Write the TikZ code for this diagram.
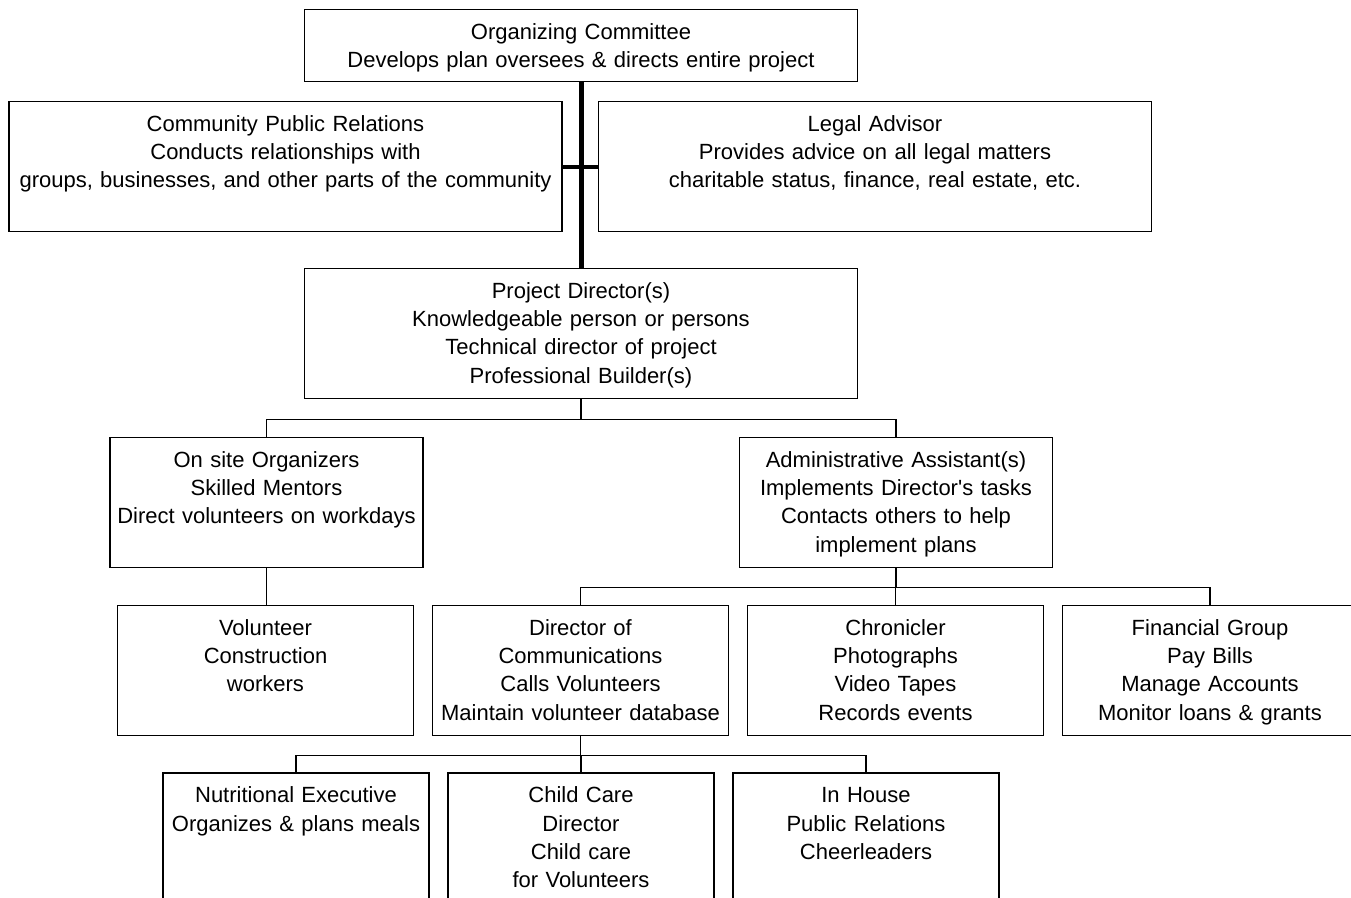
\documentclass[tikz,border=0pt]{standalone}
\usepackage{fontspec}
\setmainfont{Liberation Sans}
\tikzset{
  post/.style={draw, line width=0.7pt, anchor=north, align=center, inner sep=0pt,
    font=\fontsize{11}{14.2}\selectfont, text height=14.75pt, text depth=50.25pt},
  widepost/.style={post, text width=276.5pt},
  midpost/.style={post, text width=156.5pt},
  narrowpost/.style={post, text width=147.75pt},
  smallpost/.style={post, text width=133pt},
  link/.style={line width=0.7pt},
  trunk/.style={line width=2.5pt}
}
\begin{document}
\begin{tikzpicture}[x=0.5pt,y=-0.5pt]
 \clip (0,0) rectangle (1351,898);

 \node[widepost, text depth=21.25pt] (org) at (581,9) {Organizing Committee\\Develops plan oversees \& directs entire project};
 \node[widepost] (cpr) at (285.5,101) {Community Public Relations\\Conducts relationships with\\groups, businesses, and other parts of the community};
 \node[widepost] (legal) at (875,101) {Legal Advisor\\Provides advice on all legal matters\\charitable status, finance, real estate, etc.};
 \node[widepost] (pd) at (581,268) {Project Director(s)\\Knowledgeable person or persons\\Technical director of project\\Professional Builder(s)};
 \node[midpost] (onsite) at (266.5,437) {On site Organizers\\Skilled Mentors\\Direct volunteers on workdays};
 \node[midpost] (admin) at (896,437) {Administrative Assistant(s)\\Implements Director\textquotesingle s tasks\\Contacts others to help\\implement plans};
 \node[narrowpost] (vol) at (265.5,605) {Volunteer\\Construction\\workers};
 \node[narrowpost] (comm) at (580.5,605) {Director of\\Communications\\Calls Volunteers\\Maintain volunteer database};
 \node[narrowpost] (chron) at (895.5,605) {Chronicler\\Photographs\\Video Tapes\\Records events};
 \node[narrowpost] (fin) at (1210,605) {Financial Group\\Pay Bills\\Manage Accounts\\Monitor loans \& grants};
 \node[smallpost] (food) at (296,772.5) {Nutritional Executive\\Organizes \& plans meals};
 \node[smallpost] (child) at (581,772.5) {Child Care\\Director\\Child care\\for Volunteers};
 \node[smallpost] (house) at (866,772.5) {In House\\Public Relations\\Cheerleaders};

 \draw[trunk] (org.south) -- (pd.north);
 \draw[trunk, line width=2pt] (cpr.east) -- (legal.west);
 \draw[link] (pd.south) -- ++(0,20) -| (onsite.north)
 (pd.south) -- ++(0,20) -| (admin.north);
 \draw[link] (onsite.south) -- (onsite.south |- vol.north);
 \draw[link] (admin.south) -- ++(0,19) -| (comm.north)
 (admin.south) -- ++(0,19) -| (chron.north)
 (admin.south) -- ++(0,19) -| (fin.north);
 \draw[link] (comm.south) -- ++(0,19) -| (food.north)
 (comm.south) -- ++(0,19) -| (child.north)
 (comm.south) -- ++(0,19) -| (house.north);

\end{tikzpicture}
\end{document}
